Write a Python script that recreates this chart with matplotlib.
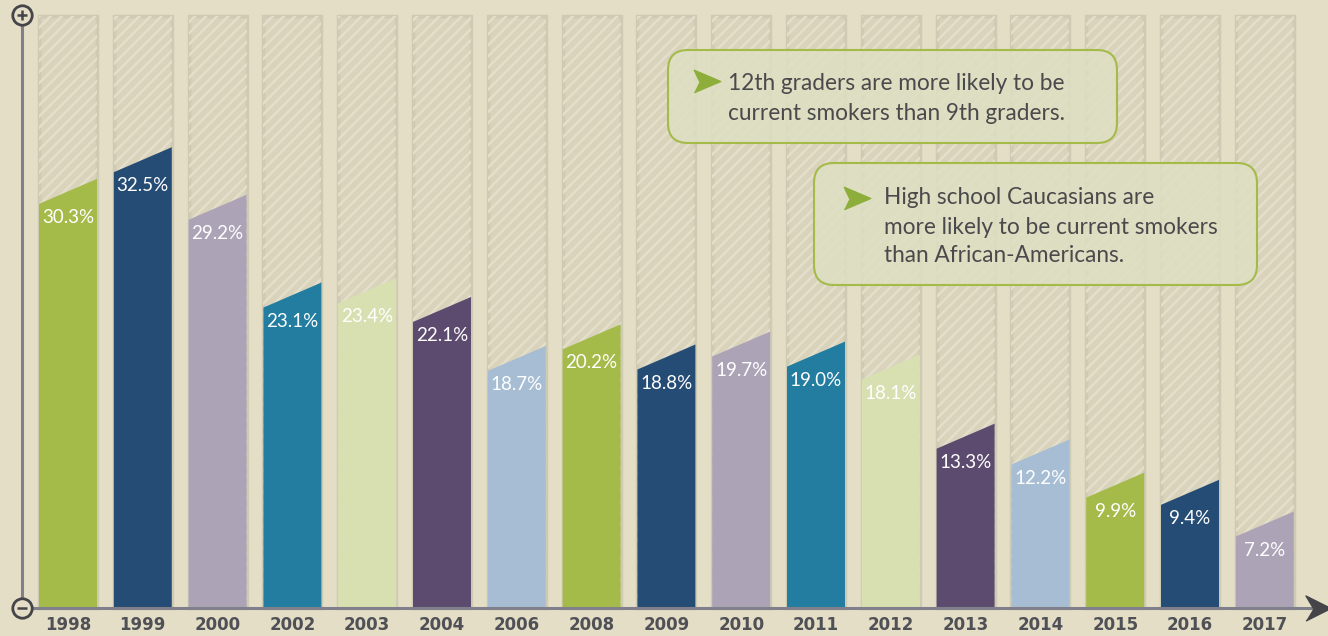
import matplotlib
matplotlib.use("Agg")
import matplotlib.pyplot as plt
from matplotlib.patches import Rectangle, Polygon, FancyBboxPatch

years = ["1998", "1999", "2000", "2002", "2003", "2004", "2006", "2008", "2009",
         "2010", "2011", "2012", "2013", "2014", "2015", "2016", "2017"]
values = [30.3, 32.5, 29.2, 23.1, 23.4, 22.1, 18.7, 20.2, 18.8,
          19.7, 19.0, 18.1, 13.3, 12.2, 9.9, 9.4, 7.2]
palette = ["#A4BB4A", "#254C74", "#ACA3B7", "#227DA0", "#D8E0B2", "#5C4B6F", "#A6BDD4"]
notes = [
    "12th graders are more likely to be\ncurrent smokers than 9th graders.",
    "High school Caucasians are\nmore likely to be current smokers\nthan African-Americans.",
]

BG = "#E4DEC7"
W, H = 1328, 636
PITCH, X0, BASE, UNIT = 74.8, 68, 608, 14.4  # px layout
BAR_W = 58 / PITCH
FULL = 41.1          # height of hatched backdrop bar
SLANT = 25 / UNIT    # left corner sits lower than right corner
TRIM = 0.5

fig = plt.figure(figsize=(W / 100, H / 100), dpi=100, facecolor=BG)
ax = fig.add_axes([0, 0, 1, 1])
ax.set_facecolor(BG)
ax.set_xlim(-X0 / PITCH, (W - X0) / PITCH)
ax.set_ylim(-(H - BASE) / UNIT, BASE / UNIT)
ax.axis("off")
plt.rcParams["hatch.linewidth"] = 1.8

for i, (yr, v) in enumerate(zip(years, values)):
    left = i - BAR_W / 2
    ax.add_patch(Rectangle((left, 0), BAR_W, FULL, facecolor="#D9D3BC",
                           edgecolor="#CFCAB3", lw=2.5, zorder=1))
    ax.add_patch(Rectangle((left, 0), BAR_W, FULL, facecolor="none",
                           edgecolor="#E4DFCA", lw=0, hatch="///", zorder=1.5))
    right_top = v - TRIM
    left_top = right_top - SLANT
    ax.add_patch(Polygon([(left, 0), (left + BAR_W, 0), (left + BAR_W, right_top),
                          (left, left_top)], closed=True,
                         facecolor=palette[i % len(palette)], lw=0, zorder=2))
    ax.text(i, left_top - 0.95, f"{v:.1f}%", ha="center", va="center",
            color="white", fontsize=13.5, family="Lato", zorder=3)
    ax.text(i, -1.15, yr, ha="center", va="center", color="#505057",
            fontsize=12, fontweight="bold",
            family=["Liberation Sans Narrow", "DejaVu Sans"], zorder=3)

# axes lines
ax_x = (22 - X0) / PITCH
end_x = (1312 - X0) / PITCH
ax.plot([ax_x, ax_x], [0, FULL + 0.1], color="#80808A", lw=2.2, zorder=4,
        solid_capstyle="butt")
ax.plot([ax_x, end_x], [0, 0], color="#80808A", lw=2.2, zorder=4)
ax.plot([(1318 - X0) / PITCH], [0], marker=[(-1, -1), (1, 0), (-1, 1), (-0.4, 0)],
        ms=18, color="#454549", zorder=5, clip_on=False)
for yy, sign in [(FULL + 0.1, "+"), (0, "_")]:
    ax.plot([ax_x], [yy], marker="o", ms=14, mfc=BG, mec="#454549", mew=2, zorder=5)
    ax.plot([ax_x], [yy], marker=sign, ms=7, mec="#454549", mew=1.8, zorder=6)

# callouts (pixel layout)
boxes = [(668, 50, 449, 93, 695, 81, 728, [84, 113]),
         (814, 163, 443, 122, 845, 198, 884, [198, 227, 256])]
tr = fig.dpi_scale_trans
for note, (bx, by, bw, bh, axp, ayp, tx, lines_y) in zip(notes, boxes):
    ax.add_patch(FancyBboxPatch((bx / 100, (H - by - bh) / 100), bw / 100, bh / 100,
                                boxstyle="round,pad=0,rounding_size=0.2",
                                transform=tr, facecolor="#DEDFC2", alpha=0.85,
                                edgecolor="none", zorder=6, clip_on=False))
    ax.add_patch(FancyBboxPatch((bx / 100, (H - by - bh) / 100), bw / 100, bh / 100,
                                boxstyle="round,pad=0,rounding_size=0.2",
                                transform=tr, facecolor="none",
                                edgecolor="#A4BB4A", lw=1.5, zorder=7, clip_on=False))
    ax.plot([(axp + 12) / 100], [(H - ayp) / 100], transform=tr,
            marker=[(-1, -0.85), (1, 0), (-1, 0.85), (-0.6, 0)], ms=19,
            color="#8DAE3A", zorder=8, clip_on=False)
    for line, ly in zip(note.split("\n"), lines_y):
        ax.text(tx / 100, (H - ly) / 100, line, transform=tr, ha="left", va="center",
                fontsize=16.3, color="#4A4A4C", family="Lato", zorder=8)

fig.savefig("out.png", dpi=100, facecolor=BG)
